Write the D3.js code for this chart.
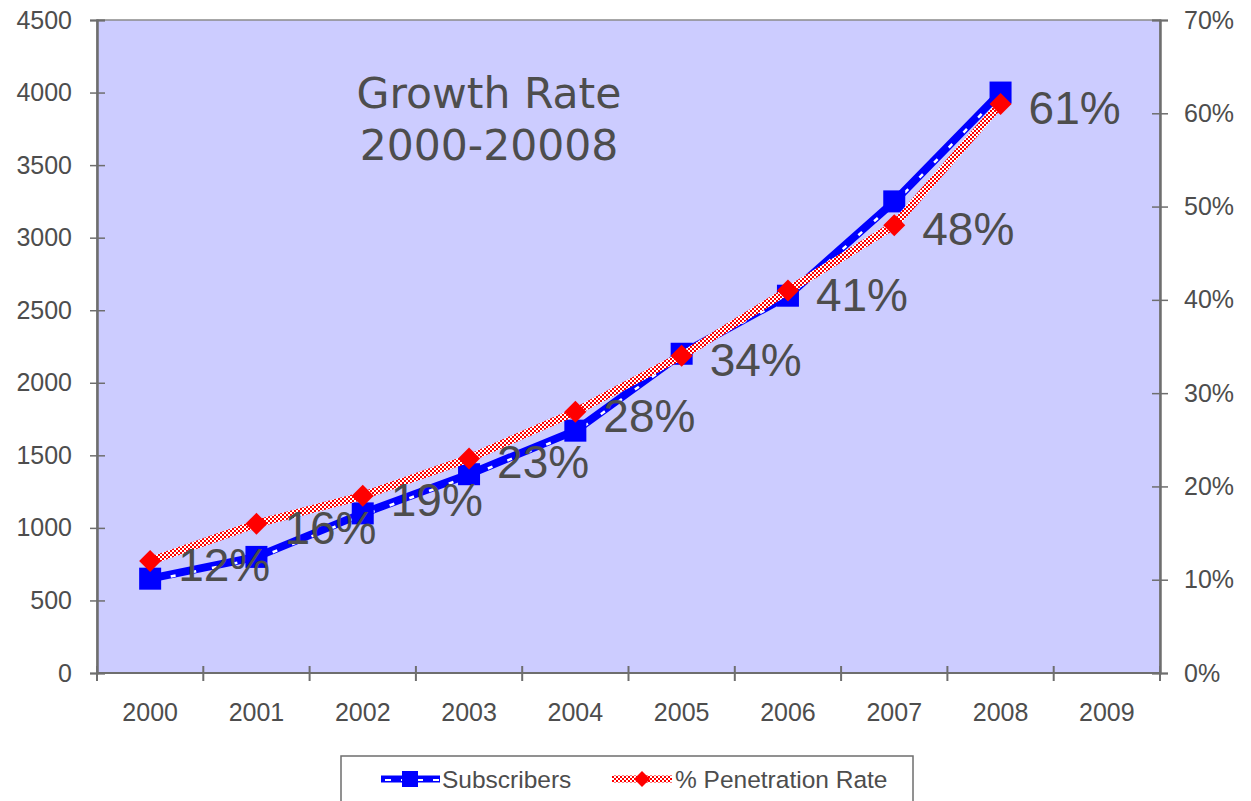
<!DOCTYPE html>
<html><head><meta charset="utf-8">
<script src="https://cdn.jsdelivr.net/npm/d3@7"></script>
<style>body{margin:0;background:#fff}svg{display:block}</style>
</head><body>
<svg id="c" width="1251" height="801"></svg>
<script>
const years = ["2000","2001","2002","2003","2004","2005","2006","2007","2008","2009"];
const subscribers = [650, 800, 1100, 1370, 1670, 2200, 2600, 3250, 4000];
const penetration = [0.12, 0.16, 0.19, 0.23, 0.28, 0.34, 0.41, 0.48, 0.61];
const leftTicks = [0,500,1000,1500,2000,2500,3000,3500,4000,4500];
const rightTicks = [0,0.1,0.2,0.3,0.4,0.5,0.6,0.7];
const titleLines = ["Growth Rate","2000-20008"];
const seriesNames = ["Subscribers","% Penetration Rate"];

const svg = d3.select("#c");
const L=97, R=1160, T=20, B=673;
const axisCol = "#6e6e6e", textCol = "#4d4d4d";
const x = d3.scaleBand().domain(years).range([L,R]);
const yL = d3.scaleLinear().domain([0,4500]).range([B,T]);
const yR = d3.scaleLinear().domain([0,0.7]).range([B,T]);

const defs = svg.append("defs");
const pat = defs.append("pattern").attr("id","chk").attr("patternUnits","userSpaceOnUse")
  .attr("width",4).attr("height",4);
pat.append("rect").attr("width",4).attr("height",4).attr("fill","#fff");
pat.append("rect").attr("width",2).attr("height",2).attr("fill","#ff0000");
pat.append("rect").attr("x",2).attr("y",2).attr("width",2).attr("height",2).attr("fill","#ff0000");

// plot background
svg.append("rect").attr("x",L).attr("y",T).attr("width",R-L).attr("height",B-T)
  .attr("fill","#ccccff").attr("stroke","#8a8a8a").attr("stroke-width",1.5);

// left axis
const gl = svg.append("g").attr("transform",`translate(${L},0)`);
gl.call(d3.axisLeft(yL).tickValues(leftTicks).tickSize(7).tickPadding(18).tickFormat(d3.format("d")));
gl.append("g").call(d3.axisRight(yL).tickValues(leftTicks).tickSize(8).tickFormat(""));
// right axis
const gr = svg.append("g").attr("transform",`translate(${R},0)`);
gr.call(d3.axisRight(yR).tickValues(rightTicks).tickSize(8).tickPadding(16).tickFormat(d3.format(".0%")));
gr.append("g").call(d3.axisLeft(yR).tickValues(rightTicks).tickSize(8).tickFormat(""));
// bottom axis
const gb = svg.append("g").attr("transform",`translate(0,${B})`);
gb.call(d3.axisBottom(x).tickSize(0).tickPadding(30));
const edges = years.map(d=>x(d)).concat([R]);
gb.selectAll("line.edge").data(edges).join("line").attr("class","edge")
  .attr("x1",d=>d).attr("x2",d=>d).attr("y1",-7).attr("y2",8)
  .attr("stroke",axisCol).attr("stroke-width",2);

svg.selectAll(".domain").attr("stroke",axisCol).attr("stroke-width",2);
svg.selectAll(".tick line").attr("stroke",axisCol).attr("stroke-width",1.5);
svg.selectAll(".tick text").attr("font-family","'Liberation Sans', Arial, sans-serif")
  .attr("font-size",25).attr("fill",textCol);
gb.select(".domain").attr("d",`M${L},0H${R}`);

// title
const tt = svg.append("text").attr("x",489).attr("y",108).attr("text-anchor","middle")
  .attr("font-family","'DejaVu Sans', Verdana, sans-serif").attr("font-size",42.5).attr("fill",textCol);
titleLines.forEach((t,i)=>tt.append("tspan").attr("x",489).attr("dy",i?52:0).text(t));

const cx = d => x(years[d]) + x.bandwidth()/2;

// subscribers line
const lineS = d3.line().x((d,i)=>cx(i)).y(d=>yL(d));
svg.append("path").datum(subscribers).attr("d",lineS).attr("fill","none")
  .attr("stroke","#0000ff").attr("stroke-width",8).attr("stroke-linejoin","round");
svg.append("path").datum(subscribers).attr("d",lineS).attr("fill","none")
  .attr("stroke","#fff").attr("stroke-width",2.5).attr("stroke-dasharray","5 16")
  .attr("transform","translate(0,2)");
svg.selectAll("rect.sq").data(subscribers).join("rect").attr("class","sq")
  .attr("x",(d,i)=>cx(i)-11).attr("y",d=>yL(d)-11).attr("width",22).attr("height",22)
  .attr("fill","#0000ff");

// penetration line
const lineP = d3.line().x((d,i)=>cx(i)).y(d=>yR(d));
svg.append("path").datum(penetration).attr("d",lineP).attr("fill","none")
  .attr("stroke","url(#chk)").attr("stroke-width",8).attr("stroke-linejoin","round");
const diamond = "M0,-11L11,0L0,11L-11,0Z";
svg.selectAll("path.dm").data(penetration).join("path").attr("class","dm")
  .attr("d",diamond).attr("transform",(d,i)=>`translate(${cx(i)},${yR(d)})`).attr("fill","#ff0000");

// data labels
svg.selectAll("text.lbl").data(penetration).join("text").attr("class","lbl")
  .attr("x",(d,i)=>cx(i)+28).attr("y",d=>yR(d)+20)
  .attr("font-family","'Liberation Sans', Arial, sans-serif").attr("font-size",46)
  .attr("fill",textCol).text(d=>d3.format(".0%")(d));

// legend
const lg = svg.append("g");
lg.append("rect").attr("x",341).attr("y",756).attr("width",572).attr("height",60)
  .attr("fill","#fff").attr("stroke",axisCol).attr("stroke-width",1.5);
lg.append("line").attr("x1",381).attr("x2",440).attr("y1",779).attr("y2",779)
  .attr("stroke","#0000ff").attr("stroke-width",7);
lg.append("line").attr("x1",381).attr("x2",440).attr("y1",780).attr("y2",780)
  .attr("stroke","#fff").attr("stroke-width",2).attr("stroke-dasharray","6 10").attr("stroke-dashoffset",-4);
lg.append("rect").attr("x",402).attr("y",771).attr("width",16).attr("height",16).attr("fill","#0000ff");
lg.append("text").attr("x",442).attr("y",788).attr("font-family","'Liberation Sans', Arial, sans-serif")
  .attr("font-size",24.5).attr("fill",textCol).text(seriesNames[0]);
lg.append("line").attr("x1",612).attr("x2",672).attr("y1",779).attr("y2",779)
  .attr("stroke","url(#chk)").attr("stroke-width",7);
lg.append("path").attr("d","M0,-8L8,0L0,8L-8,0Z").attr("transform","translate(642,779)").attr("fill","#ff0000");
lg.append("text").attr("x",675).attr("y",788).attr("font-family","'Liberation Sans', Arial, sans-serif")
  .attr("font-size",24.5).attr("fill",textCol).text(seriesNames[1]);
</script>
</body></html>
